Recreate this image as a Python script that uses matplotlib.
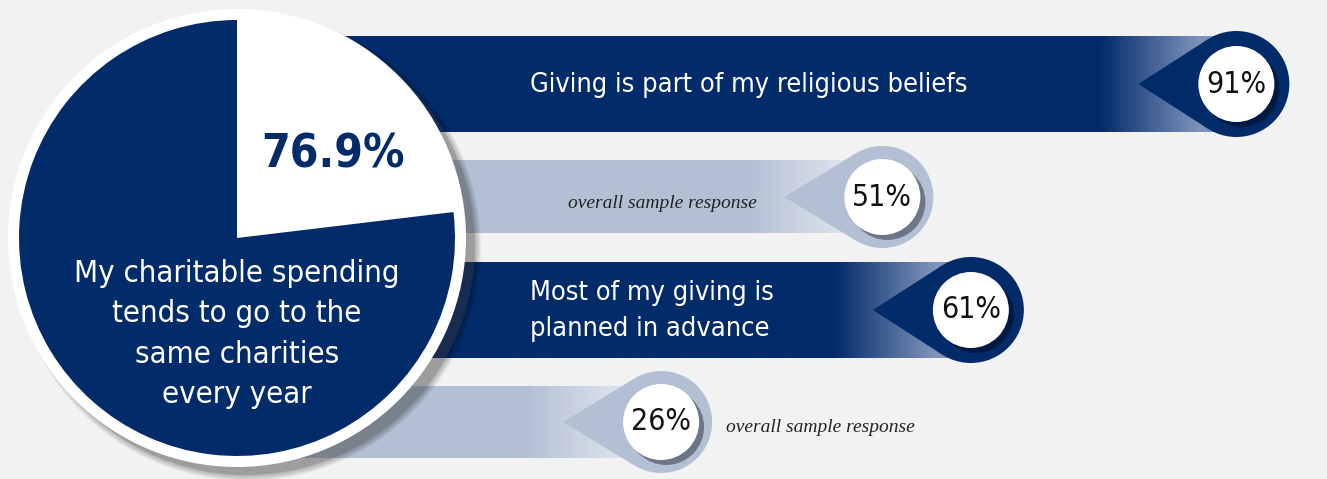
import numpy as np
import matplotlib
matplotlib.use("Agg")
import matplotlib.pyplot as plt
from matplotlib.patches import Circle, Wedge, Polygon
from matplotlib.colors import LinearSegmentedColormap
from matplotlib import font_manager

# ---- data ----
pie_share = 76.9
pie_caption = "My charitable spending\ntends to go to the\nsame charities\nevery year"

bar_values = [91, 51, 61, 26]
bar_labels = ["Giving is part of my religious beliefs", "",
              "Most of my giving is\nplanned in advance", ""]
bar_kinds = ["group", "overall", "group", "overall"]
note_text = "overall sample response"

# ---- canvas (pixel coordinates) ----
W, H = 1327, 479
DPI = 100
PT = 72 / DPI          # px -> pt

NAVY = "#022b69"
NAVY_LIGHT = "#8094bb"
NAVY_SHADOW = "#001a44"
PALE = "#b3c0d4"
PALE_LIGHT = "#dfe4ed"
PALE_SHADOW = "#6d7689"
BG = "#f2f2f2"

names = {f.name for f in font_manager.fontManager.ttflist}
if "Liberation Sans Narrow" in names:
    NARROW = dict(family="Liberation Sans Narrow")
else:
    NARROW = dict(family="DejaVu Sans", stretch="condensed")
SERIF = dict(family="Liberation Serif", style="italic")


def val_to_x(v):
    # pin centre position for a percentage
    return 431 + 8.85 * v


fig = plt.figure(figsize=(W / DPI, H / DPI), dpi=DPI, facecolor=BG)
ax = fig.add_axes([0, 0, 1, 1])
ax.set_facecolor(BG)
ax.axis("off")

row_y = [84, 197, 310, 422]
bar_start = 240
TIP_D = 98
INNER_R = 38


def draw_bar(yc, h, x_end, base, light):
    # solid bar that fades to a lighter tint just before the pin
    g0 = (x_end - 135 - bar_start) / (x_end - bar_start)
    g1 = (x_end - 35 - bar_start) / (x_end - bar_start)
    cmap = LinearSegmentedColormap.from_list(
        "bar", [(0, base), (g0, base), (g1, light), (1, light)])
    grad = np.linspace(0, 1, 1024)[None, :]
    ax.imshow(grad, extent=(bar_start, x_end, yc + h / 2, yc - h / 2), cmap=cmap,
              aspect="auto", interpolation="bilinear", zorder=1)


def draw_pin(xc, yc, r, color, shadow, value):
    a = np.arccos(r / TIP_D)
    tip = (xc - TIP_D, yc)
    p1 = (xc + r * np.cos(np.pi - a), yc + r * np.sin(np.pi - a))
    p2 = (xc + r * np.cos(np.pi + a), yc + r * np.sin(np.pi + a))
    ax.add_patch(Polygon([tip, p1, p2], closed=True, facecolor=color, lw=0, zorder=2))
    ax.add_patch(Circle((xc, yc), r, facecolor=color, lw=0, zorder=2))
    ax.add_patch(Circle((xc + 5, yc + 5), INNER_R, facecolor=shadow, lw=0, zorder=3))
    ax.add_patch(Circle((xc, yc), INNER_R, facecolor="white", lw=0, zorder=4))
    ax.text(xc, yc, f"{value}%", ha="center", va="center", color="#111111",
            fontsize=30 * PT, zorder=5, **NARROW)


for v, lab, kind, yc in zip(bar_values, bar_labels, bar_kinds, row_y):
    xc = val_to_x(v)
    if kind == "group":
        draw_bar(yc, 96, xc, NAVY, NAVY_LIGHT)
        draw_pin(xc, yc, 53, NAVY, NAVY_SHADOW, v)
        ax.text(530, yc + 1, lab, ha="left", va="center", color="white",
                fontsize=27 * PT, linespacing=1.55, zorder=5, **NARROW)
    else:
        draw_bar(yc, 72, xc, PALE, PALE_LIGHT)
        draw_pin(xc, yc, 51, PALE, PALE_SHADOW, v)
        tip_x = xc - TIP_D
        if tip_x - 30 > 560 + 180:
            ax.text(tip_x - 28, yc + 6, note_text, ha="right", va="center",
                    color="#222222", fontsize=19.5 * PT, zorder=5, **SERIF)
        else:
            ax.text(xc + 51 + 14, yc + 6, note_text, ha="left", va="center",
                    color="#222222", fontsize=19.5 * PT, zorder=5, **SERIF)

# ---- pie disc with soft shadow ----
cx, cy = 237, 238
R_OUT, R_PIE = 229, 218
for i in range(8):
    ax.add_patch(Circle((cx + 10, cy + 9), R_OUT + 5 - i * 0.9, facecolor="#000000",
                        alpha=0.04, lw=0, zorder=6))
ax.add_patch(Circle((cx + 9, cy + 8), R_OUT, facecolor="#6a6a6a", alpha=0.22, lw=0, zorder=6))
ax.add_patch(Circle((cx, cy), R_OUT, facecolor="white", lw=0, zorder=7))

# white slice runs clockwise from 12 o'clock; the y axis points down,
# so wedge angles are mirrored
rest_deg = 360 * (100 - pie_share) / 100
ax.add_patch(Wedge((cx, cy), R_PIE, -90 + rest_deg, 270,
                   facecolor=NAVY, lw=0, zorder=8))

ax.text(333, 155, f"{pie_share}%", ha="center", va="center", color=NAVY,
        fontsize=46 * PT, fontweight="bold", zorder=9, **NARROW)
ax.text(cx, 334, pie_caption, ha="center", va="center", color="white",
        fontsize=31 * PT, linespacing=1.5, zorder=9, **NARROW)

ax.set_xlim(0, W)
ax.set_ylim(H, 0)
fig.savefig("out.png", dpi=DPI, facecolor=BG)
